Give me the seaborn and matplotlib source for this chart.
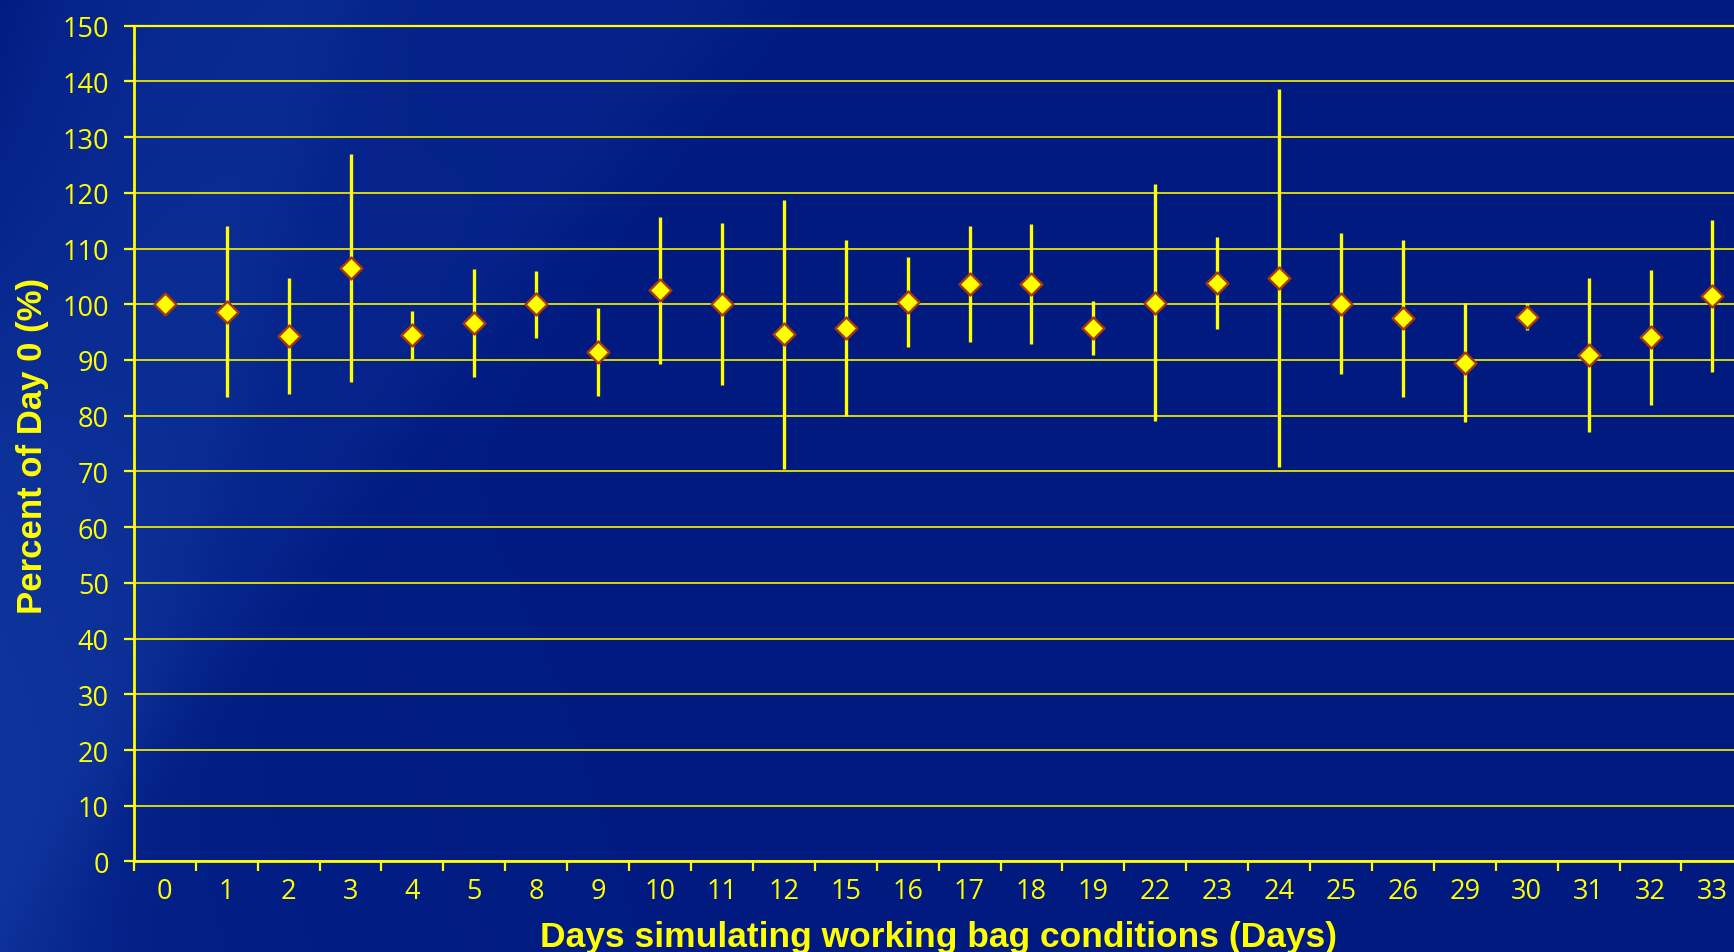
import numpy as np
import pandas as pd
import matplotlib
matplotlib.use("Agg")
import matplotlib.pyplot as plt
import seaborn as sns

# values (percent of day 0, mean and +/- error)
days = ["0", "1", "2", "3", "4", "5", "8", "9", "10", "11", "12", "15", "16",
        "17", "18", "19", "22", "23", "24", "25", "26", "29", "30", "31", "32", "33"]
means = [100.0, 98.7, 94.3, 106.5, 94.5, 96.6, 100.0, 91.5, 102.5, 100.1, 94.6, 95.7, 100.4,
         103.6, 103.6, 95.7, 100.3, 103.8, 104.7, 100.1, 97.5, 89.5, 97.8, 90.9, 94.1, 101.5]
errs = [0.0, 15.3, 10.4, 20.4, 4.3, 9.7, 6.0, 7.9, 13.2, 14.5, 24.2, 15.8, 8.0,
        10.4, 10.8, 4.8, 21.2, 8.2, 33.9, 12.7, 14.1, 10.7, 2.4, 13.9, 12.1, 13.6]

df = pd.DataFrame({"pos": np.arange(len(days)), "mean": means, "err": errs})

sns.set_theme(style="ticks")
plt.rcParams["font.family"] = ["Open Sans", "DejaVu Sans"]

YEL = "#ffff00"

W, H = 1734, 953
fig = plt.figure(figsize=(W / 100, H / 100), dpi=100)

# background: navy, a bit lighter towards the lower left, two soft sweeps
yy, xx = np.mgrid[0:H, 0:W].astype(float)
base = np.array([0, 26, 128]) / 255
light = np.array([22, 66, 170]) / 255
sig = lambda v: 1 / (1 + np.exp(-v))
w = 0.22 * sig((760 - (xx + 0.82 * yy)) / 25)
w += 0.22 * sig((360 - (xx + 0.30 * yy)) / 20)
w += 0.30 * np.clip(yy / H, 0, 1) * np.exp(-xx / 260)
w *= 1 - 0.85 * np.exp(-xx / 110) * np.clip(1 - yy / 450, 0, 1)
w = np.clip(w, 0, 1)[..., None]
img = base * (1 - w) + light * w
bg = fig.add_axes([0, 0, 1, 1])
bg.imshow(img, aspect="auto")
bg.axis("off")

ax = fig.add_axes([0.0772, 0.095, 0.9282, 0.877])
ax.set_facecolor("none")

ax.errorbar(df["pos"], df["mean"], yerr=df["err"], fmt="none",
            ecolor=YEL, elinewidth=2.4, capsize=0, zorder=3)
sns.scatterplot(data=df, x="pos", y="mean", marker="D", s=125, color=YEL,
                edgecolor="#a8380c", linewidth=1.7, ax=ax, zorder=4, legend=False)

ax.set_xlim(-0.5, len(days) - 0.5)
ax.set_ylim(0, 150)
ax.set_yticks(range(0, 151, 10))
ax.set_xticks(df["pos"])
ax.set_xticklabels(days)
ax.set_xticks(np.arange(-0.5, len(days), 1), minor=True)
ax.set_xlabel("")
ax.set_ylabel("")

ax.tick_params(axis="x", which="major", length=0, pad=11, labelsize=19.5, labelcolor=YEL)
ax.tick_params(axis="x", which="minor", length=7, width=1.6, color=YEL, direction="out")
ax.tick_params(axis="y", length=7, width=1.6, color=YEL, pad=11, labelsize=19.5, labelcolor=YEL)
ax.grid(axis="y", color="#e6e600", linewidth=1.3)
ax.set_axisbelow(True)

for s in ["left", "bottom"]:
    ax.spines[s].set_color(YEL)
    ax.spines[s].set_linewidth(2)
ax.spines["top"].set_color(YEL)
ax.spines["top"].set_linewidth(1.6)
ax.spines["right"].set_visible(False)

lab = ["Liberation Sans", "DejaVu Sans"]
fig.text(0.541, 0.0066, "Days simulating working bag conditions (Days)", ha="center",
         va="baseline", fontsize=25.5, fontweight="bold", color=YEL, family=lab)
fig.text(0.019, 0.532, "Percent of Day 0 (%)", rotation=90, ha="center", va="center",
         fontsize=25, fontweight="bold", color=YEL, family=lab)

fig.savefig("out.png", dpi=100)
